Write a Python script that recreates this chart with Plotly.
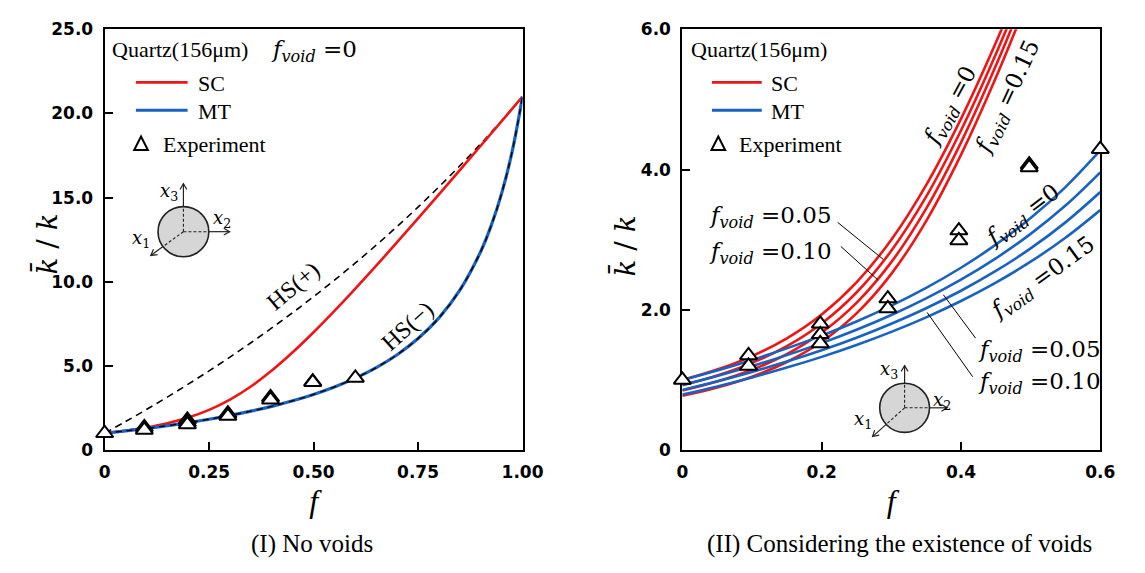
import plotly.graph_objects as go

W, H = 1145, 573

# ---------------- panel (I): no voids ----------------
f_model = [0.00, 0.05, 0.10, 0.15, 0.20, 0.25, 0.30, 0.35, 0.40, 0.45, 0.50, 0.55,
           0.60, 0.65, 0.70, 0.75, 0.80, 0.85, 0.90, 0.925, 0.95, 0.975, 1.00]
k_sc = [1.000, 1.148, 1.340, 1.593, 1.933, 2.391, 3.000, 3.779, 4.723, 5.808, 7.000, 8.270,
        9.594, 10.958, 12.350, 13.763, 15.191, 16.631, 18.081, 18.808, 19.537, 20.268, 21.000]
k_mt = [1.000, 1.136, 1.286, 1.450, 1.632, 1.833, 2.059, 2.313, 2.600, 2.929, 3.308, 3.750,
        4.273, 4.900, 5.667, 6.625, 7.857, 9.500, 11.800, 13.333, 15.250, 17.714, 21.000]
k_hs_upper = [1.000, 1.693, 2.410, 3.150, 3.915, 4.707, 5.526, 6.375, 7.255, 8.167, 9.113, 10.096,
              11.118, 12.180, 13.286, 14.438, 15.638, 16.891, 18.200, 18.876, 19.568, 20.276, 21.000]
k_hs_lower = k_mt  # the HS(−) bound coincides with MT

# ---------------- experiments ----------------
f_exp = [0.000, 0.095, 0.095, 0.198, 0.198, 0.198, 0.295, 0.295, 0.397, 0.397, 0.498, 0.498, 0.600]
k_exp = [1.00, 1.35, 1.20, 1.80, 1.65, 1.52, 2.16, 2.02, 3.13, 2.99, 4.07, 4.03, 4.29]

# ---------------- panel (II): with voids ----------------
f_sc2 = [0.00, 0.05, 0.10, 0.15, 0.20, 0.25, 0.30, 0.35, 0.40, 0.45, 0.50]
sc_void_000 = [1.000, 1.148, 1.340, 1.593, 1.933, 2.391, 3.000, 3.779, 4.723, 5.808, 7.000]
sc_void_005 = [0.925, 1.063, 1.243, 1.481, 1.805, 2.247, 2.842, 3.613, 4.557, 5.645, 6.844]
sc_void_010 = [0.850, 0.978, 1.145, 1.369, 1.676, 2.100, 2.680, 3.443, 4.385, 5.479, 6.685]
sc_void_015 = [0.775, 0.893, 1.047, 1.256, 1.544, 1.949, 2.513, 3.266, 4.209, 5.308, 6.523]

f_mt2 = [0.00, 0.05, 0.10, 0.15, 0.20, 0.25, 0.30, 0.35, 0.40, 0.45, 0.50, 0.55, 0.60]
mt_void_000 = [1.000, 1.136, 1.286, 1.450, 1.632, 1.833, 2.059, 2.313, 2.600, 2.929, 3.308, 3.750, 4.273]
mt_void_005 = [0.927, 1.057, 1.198, 1.354, 1.525, 1.715, 1.926, 2.163, 2.430, 2.734, 3.083, 3.487, 3.961]
mt_void_010 = [0.857, 0.981, 1.115, 1.262, 1.424, 1.603, 1.802, 2.023, 2.272, 2.554, 2.876, 3.247, 3.679]
mt_void_015 = [0.791, 0.908, 1.036, 1.176, 1.329, 1.498, 1.685, 1.893, 2.126, 2.388, 2.686, 3.027, 3.422]

# tick labels
xt1_vals, xt1_text = [0, 0.25, 0.5, 0.75, 1.0], ["0", "0.25", "0.50", "0.75", "1.00"]
yt1_vals, yt1_text = [0, 5, 10, 15, 20, 25], ["0", "5.0", "10.0", "15.0", "20.0", "25.0"]
xt2_vals, xt2_text = [0, 0.2, 0.4, 0.6], ["0", "0.2", "0.4", "0.6"]
yt2_vals, yt2_text = [0, 2, 4, 6], ["0", "2.0", "4.0", "6.0"]

RED = "#f01414"
BLUE = "#1a62bf"
SERIF = "Liberation Serif"
MATH = "DejaVu Serif"


def P(px, py):
    """pixel position on the page -> paper coordinates"""
    return px / W, 1 - py / H


fig = go.Figure()

# panel (I)
fig.add_trace(go.Scatter(x=f_model, y=k_hs_upper, mode="lines", line_shape="spline",
                         line=dict(color="black", width=1.6, dash="7px,5px"),
                         xaxis="x", yaxis="y", showlegend=False))
fig.add_trace(go.Scatter(x=f_model, y=k_sc, mode="lines", line_shape="spline",
                         line=dict(color=RED, width=2.6), xaxis="x", yaxis="y", showlegend=False))
fig.add_trace(go.Scatter(x=f_model, y=k_mt, mode="lines", line_shape="spline",
                         line=dict(color=BLUE, width=3.2), xaxis="x", yaxis="y", showlegend=False))
fig.add_trace(go.Scatter(x=f_model, y=k_hs_lower, mode="lines", line_shape="spline",
                         line=dict(color="black", width=1.4, dash="6px,5px"),
                         xaxis="x", yaxis="y", showlegend=False))
fig.add_trace(go.Scatter(x=f_exp, y=k_exp, mode="markers", cliponaxis=False,
                         marker=dict(symbol="triangle-up", size=15, color="white",
                                     line=dict(color="black", width=2)),
                         xaxis="x", yaxis="y", showlegend=False))

# panel (II)
for ys in (sc_void_000, sc_void_005, sc_void_010, sc_void_015):
    fig.add_trace(go.Scatter(x=f_sc2, y=ys, mode="lines", line_shape="spline",
                             line=dict(color=RED, width=2.6), xaxis="x2", yaxis="y2",
                             showlegend=False))
for ys in (mt_void_000, mt_void_005, mt_void_010, mt_void_015):
    fig.add_trace(go.Scatter(x=f_mt2, y=ys, mode="lines", line_shape="spline",
                             line=dict(color=BLUE, width=2.6), xaxis="x2", yaxis="y2",
                             showlegend=False))
fig.add_trace(go.Scatter(x=f_exp, y=k_exp, mode="markers", cliponaxis=False,
                         marker=dict(symbol="triangle-up", size=15, color="white",
                                     line=dict(color="black", width=2)),
                         xaxis="x2", yaxis="y2", showlegend=False))

shapes = []
annotations = []


def text(px, py, s, size=22, family=SERIF, xanchor="center", angle=0, color="black"):
    x, y = P(px, py)
    annotations.append(dict(x=x, y=y, xref="paper", yref="paper", text=s, showarrow=False,
                            xanchor=xanchor, yanchor="middle", textangle=angle,
                            font=dict(family=family, size=size, color=color)))


def seg(x0, y0, x1, y1, color="black", width=1.0, dash="solid"):
    a, b = P(x0, y0)
    c, d = P(x1, y1)
    shapes.append(dict(type="line", xref="paper", yref="paper", x0=a, y0=b, x1=c, y1=d,
                       line=dict(color=color, width=width, dash=dash)))


def arrow(tx, ty, hx, hy, color="#222"):
    """solid shaft plus an open chevron head"""
    seg(tx, ty, hx, hy, color, 1.2)
    dx, dy = hx - tx, hy - ty
    n = (dx * dx + dy * dy) ** 0.5
    ux, uy = dx / n, dy / n
    nx, ny = -uy, ux
    w1 = P(hx - 6 * ux + 3.5 * nx, hy - 6 * uy + 3.5 * ny)
    w2 = P(hx - 6 * ux - 3.5 * nx, hy - 6 * uy - 3.5 * ny)
    h = P(hx, hy)
    shapes.append(dict(type="path", xref="paper", yref="paper",
                       path=f"M {w1[0]},{w1[1]} L {h[0]},{h[1]} L {w2[0]},{w2[1]}",
                       line=dict(color=color, width=1.2)))


def legend_block(x0, x1, tx, tri_x, ex_x):
    seg(x0, 75, x1, 75, RED, 2.6)
    seg(x0, 104, x1, 104, BLUE, 3.0)
    a = P(tri_x - 7, 145)
    b = P(tri_x + 7, 145)
    c = P(tri_x, 131)
    shapes.append(dict(type="path", xref="paper", yref="paper",
                       path=f"M {a[0]},{a[1]} L {b[0]},{b[1]} L {c[0]},{c[1]} Z",
                       fillcolor="white", line=dict(color="black", width=2)))
    text(tx, 76, "SC", xanchor="left")
    text(tx, 105, "MT", xanchor="left")
    text(ex_x, 139, "Experiment", xanchor="left")


def sphere_icon(cx, cy, r, up, right, dl, lab3, lab2, lab1):
    a = P(cx - r, cy + r)
    b = P(cx + r, cy - r)
    shapes.append(dict(type="circle", xref="paper", yref="paper", x0=a[0], y0=a[1],
                       x1=b[0], y1=b[1], fillcolor="#d6d6d6", line=dict(color="#222", width=1.6)))
    dx, dy = dl[0] - cx, dl[1] - cy
    n = (dx * dx + dy * dy) ** 0.5
    ex, ey = cx + r * dx / n, cy + r * dy / n
    seg(cx, cy, cx, cy - r, "#222", 1.1, "3px,2px")
    seg(cx, cy, cx + r, cy, "#222", 1.1, "3px,2px")
    seg(cx, cy, ex, ey, "#222", 1.1, "3px,2px")
    arrow(cx, cy - r, cx, up)
    arrow(cx + r, cy, right, cy)
    arrow(ex, ey, dl[0], dl[1])
    text(lab3[0], lab3[1], "<i>x</i><sub>3</sub>", size=18, family=MATH)
    text(lab2[0], lab2[1], "<i>x</i><sub>2</sub>", size=18, family=MATH)
    text(lab1[0], lab1[1], "<i>x</i><sub>1</sub>", size=18, family=MATH)


FV = "<i>f</i><sub><i>void</i></sub>"

# panel (I) texts
text(107, 41, "Quartz(156μm)", xanchor="left")
text(269, 42, FV + " =0", size=23, family=MATH, xanchor="left")
legend_block(133, 186, 195, 138.3, 159)
sphere_icon(181.7, 229.7, 26, 180, 229, (148.3, 254.3), (166.7, 189), (221, 217), (138, 237))
text(294, 286, "HS(+)", size=24, angle=-40)
text(411, 327, "HS(−)", size=24, angle=-42)
text(41, 243, "<i>k̄</i> / <i>k</i>", size=28, family=MATH, angle=-90)

# panel (II) texts
text(700, 41, "Quartz(156μm)", xanchor="left")
legend_block(723, 774, 781, 729.5, 749)
sphere_icon(920.3, 412.2, 25.5, 368.5, 964, (887.5, 442), (904, 373), (959, 405), (878, 425))
text(967.5, 100, FV + " =0", size=23, family=MATH, angle=-61.5)
text(1027, 90, FV + " =0.15", size=23, family=MATH, angle=-65)
text(1042, 213, FV + " =0", size=23, family=MATH, angle=-37)
text(1063, 278, FV + " =0.15", size=23, family=MATH, angle=-36)
text(848, 215, FV + " =0.05", size=23, family=MATH, xanchor="right")
text(848, 252, FV + " =0.10", size=23, family=MATH, xanchor="right")
text(993, 353, FV + " =0.05", size=23, family=MATH, xanchor="left")
text(993, 386, FV + " =0.10", size=23, family=MATH, xanchor="left")
seg(851.7, 220, 898.3, 258.3)
seg(855, 245, 893.3, 280)
seg(993, 340, 960, 295)
seg(990, 380, 943.3, 313.3)
text(633, 245, "<i>k̄</i> / <i>k</i>", size=28, family=MATH, angle=-90)

# captions
text(313, 553, "(I) No voids", size=25)
text(915, 553, "(II) Considering the existence of voids", size=25)

tickfont = dict(family="DejaVu Sans", size=17, color="black", weight="bold")
common = dict(showline=True, linecolor="black", linewidth=2, mirror=True, ticks="inside",
              ticklen=8, tickwidth=2, tickcolor="black", showgrid=False, zeroline=False,
              tickfont=tickfont, layer="below traces")
xtitle = dict(text="<i>f</i>", font=dict(family=SERIF, size=32, color="black"), standoff=8)

ydom = [1 - 456 / H, 1 - 20 / H]
fig.update_layout(
    width=W, height=H, margin=dict(l=0, r=0, t=0, b=0),
    paper_bgcolor="white", plot_bgcolor="white", showlegend=False,
    xaxis=dict(domain=[101 / W, 529 / W], range=[0, 1], tickvals=xt1_vals, ticktext=xt1_text,
               anchor="y", title=xtitle, ticklabelstandoff=6, **common),
    yaxis=dict(domain=ydom, range=[0, 25], tickvals=yt1_vals, ticktext=yt1_text,
               anchor="x", ticklabelstandoff=6, **common),
    xaxis2=dict(domain=[692.7 / W, 1120.7 / W], range=[0, 0.6], tickvals=xt2_vals,
                ticktext=xt2_text, anchor="y2", title=xtitle, ticklabelstandoff=6, **common),
    yaxis2=dict(domain=ydom, range=[0, 6], tickvals=yt2_vals, ticktext=yt2_text,
                anchor="x2", ticklabelstandoff=6, **common),
    shapes=shapes, annotations=annotations,
)

fig.write_html("out.html")
